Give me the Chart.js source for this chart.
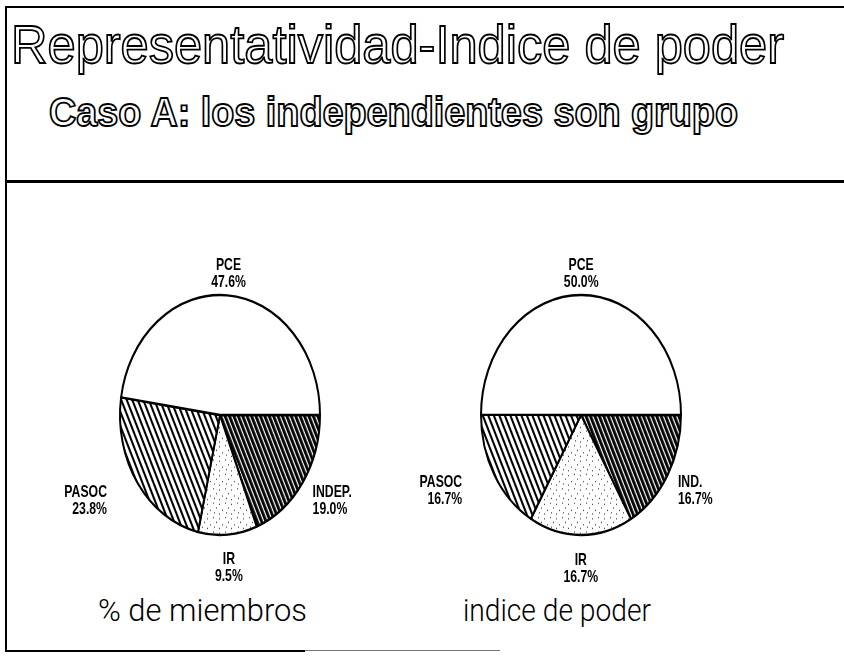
<!DOCTYPE html>
<html><head><meta charset="utf-8">
<script src="https://cdn.jsdelivr.net/npm/chart.js@4.4.1/dist/chart.umd.min.js"></script>
<style>
html,body{margin:0;padding:0;background:#fff;}
#page{position:relative;width:844px;height:658px;overflow:hidden;background:#fff;}
.ln{position:absolute;background:#000;}
.txt{position:absolute;white-space:nowrap;line-height:1;transform-origin:0 0;font-family:'Liberation Sans',Arial,Helvetica,sans-serif;color:#000;-webkit-font-smoothing:antialiased;}
.outline{color:#fff;-webkit-text-stroke:1.8px #000;}
.cap{font-family:Roboto,'Liberation Sans',Arial,sans-serif;font-weight:300;}
canvas{position:absolute;}
</style></head><body>
<div id="page">
  <div class="ln" style="left:5px;top:6px;width:839px;height:2px"></div>
  <div class="ln" style="left:5px;top:6px;width:2px;height:646px"></div>
  <div class="ln" style="left:5px;top:180px;width:839px;height:3px"></div>
  <div class="ln" style="left:5px;top:650px;width:300px;height:2px"></div>
  <div class="ln" style="left:305px;top:650px;width:195px;height:1px;background:#777"></div>
  <div id="title" class="txt outline"></div>
  <div id="subtitle" class="txt outline"></div>
  <div id="capA" class="txt cap"></div>
  <div id="capB" class="txt cap"></div>
  <canvas id="pieA" width="400" height="360" style="left:20px;top:235px"></canvas>
  <canvas id="pieB" width="400" height="360" style="left:381px;top:235px"></canvas>
</div>
<script>
// ---- data ----
const titleText = 'Representatividad-Indice de poder';
const subtitleText = 'Caso A: los independientes son grupo';
const categoriesA = ['INDEP.', 'IR', 'PASOC', 'PCE'];
const valuesA = [19.0, 9.5, 23.8, 47.6];
const captionA = '% de miembros';
const categoriesB = ['IND.', 'IR', 'PASOC', 'PCE'];
const valuesB = [16.7, 16.7, 16.7, 50.0];
const captionB = 'indice de poder';

// ---- text placement ----
function placeText(id, text, o) {
  const el = document.getElementById(id);
  el.textContent = text;
  el.style.fontSize = o.size + 'px';
  if (o.weight) el.style.fontWeight = o.weight;
  el.style.top = (o.baseline - 0.8465 * o.size) + 'px';
  const natural = el.getBoundingClientRect().width;
  let w = natural;
  if (o.width) { el.style.transform = 'scaleX(' + (o.width / natural) + ')'; w = o.width; }
  if (o.cx !== undefined) el.style.left = (o.cx - w / 2) + 'px';
  else el.style.left = o.x + 'px';
}
placeText('title', titleText, {x: 11, baseline: 63, size: 54, width: 773});
placeText('subtitle', subtitleText, {x: 49, baseline: 126, size: 40, width: 689, weight: 700});
placeText('capA', captionA, {cx: 202, baseline: 621, size: 31, width: 209});
placeText('capB', captionB, {cx: 557, baseline: 621, size: 31, width: 188});

// ---- fills ----
function stripePattern(period, lineW, angle) {
  const c = document.createElement('canvas');
  c.width = period; c.height = 4;
  const x = c.getContext('2d');
  x.fillStyle = '#fff'; x.fillRect(0, 0, c.width, c.height);
  x.fillStyle = '#000'; x.fillRect(0, 0, lineW, c.height);
  const p = x.createPattern(c, 'repeat');
  p.setTransform(new DOMMatrix().rotate(angle));
  return p;
}
function stipplePattern() {
  const c = document.createElement('canvas');
  c.width = 12; c.height = 12;
  const x = c.getContext('2d');
  x.fillStyle = '#fff'; x.fillRect(0, 0, 12, 12);
  x.fillStyle = '#444';
  [[1,1],[7,2],[4,5],[10,7],[2,9],[7,10]].forEach(([a,b]) => x.fillRect(a, b, 1, 1));
  return x.createPattern(c, 'repeat');
}
const fills = {
  PCE: '#ffffff',
  PASOC: stripePattern(5, 2, -25),
  IR: stipplePattern(),
  IND: stripePattern(4, 2.8, -25)
};
function fillFor(name) {
  if (name.startsWith('IND')) return fills.IND;
  return fills[name];
}

const SY = 1.2;      // vertical stretch of the pie (drawn as an ellipse)
const LABEL_SX = 0.72; // condensed label lettering

const ellipsePlugin = {
  id: 'ellipse',
  beforeDatasetsDraw(chart) {
    const arc = chart.getDatasetMeta(0).data[0];
    const ctx = chart.ctx;
    ctx.save();
    ctx.translate(arc.x, arc.y);
    ctx.scale(1, SY);
    ctx.translate(-arc.x, -arc.y);
  },
  afterDatasetsDraw(chart) {
    const ctx = chart.ctx;
    ctx.restore();
    const meta = chart.getDatasetMeta(0);
    const labels = chart.data.labels;
    const vals = chart.data.datasets[0].data;
    meta.data.forEach((arc, i) => {
      const p = arc.getProps(['startAngle', 'endAngle', 'outerRadius', 'x', 'y'], true);
      const mid = (p.startAngle + p.endAngle) / 2;
      const c = Math.cos(mid), s = Math.sin(mid);
      const rx = p.outerRadius, ry = p.outerRadius * SY;
      let px, py, align;
      if (Math.abs(c) > 0.3) {
        px = p.x + c * rx * (c < 0 ? 1.37 : 1.12);
        py = p.y + s * ry * 1.27;
        align = c < 0 ? 'right' : 'left';
      } else {
        px = p.x + c * rx * 1.15;
        py = p.y + s * ry * (s < 0 ? 1.18 : 1.28);
        align = 'center';
      }
      ctx.save();
      ctx.translate(px, py);
      ctx.scale(LABEL_SX, 1);
      ctx.fillStyle = '#000';
      ctx.font = "bold 17px 'Liberation Sans',Arial,sans-serif";
      ctx.textBaseline = 'middle';
      ctx.textAlign = align;
      ctx.fillText(labels[i], 0, -8.5);
      ctx.fillText(vals[i].toFixed(1) + '%', 0, 8.5);
      ctx.restore();
    });
  }
};

function makePie(id, cats, vals) {
  new Chart(document.getElementById(id), {
    type: 'pie',
    data: {
      labels: cats,
      datasets: [{
        data: vals,
        backgroundColor: cats.map(fillFor),
        borderColor: '#000',
        borderWidth: 2,
        radius: 100,
        hoverOffset: 0,
        offset: 0
      }]
    },
    options: {
      responsive: false,
      animation: false,
      rotation: 90,
      events: [],
      layout: {padding: 0},
      plugins: {legend: {display: false}, tooltip: {enabled: false}, title: {display: false}}
    },
    plugins: [ellipsePlugin]
  });
}
makePie('pieA', categoriesA, valuesA);
makePie('pieB', categoriesB, valuesB);
</script>
</body></html>
